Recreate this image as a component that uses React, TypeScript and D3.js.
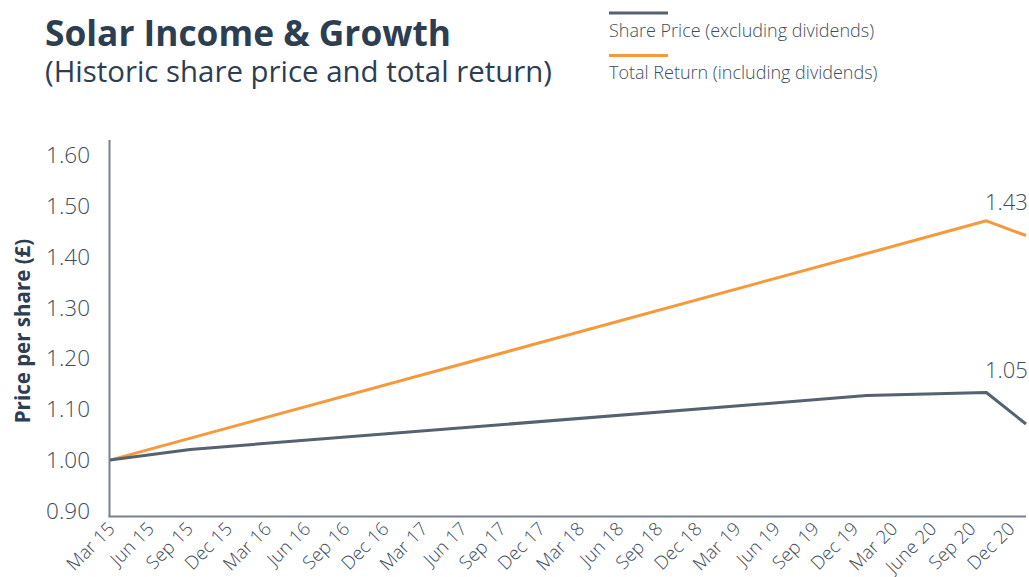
import React from "react";
import * as d3 from "d3";

const tickLabels = [
  "Mar 15", "Jun 15", "Sep 15", "Dec 15",
  "Mar 16", "Jun 16", "Sep 16", "Dec 16",
  "Mar 17", "Jun 17", "Sep 17", "Dec 17",
  "Mar 18", "Jun 18", "Sep 18", "Dec 18",
  "Mar 19", "Jun 19", "Sep 19", "Dec 19",
  "Mar 20", "June 20", "Sep 20", "Dec 20",
];

// vertices
const shareDates = ["Mar 15", "Sep 15", "Dec 19", "Sep 20", "Dec 20"];
const shareValues = [1.0, 1.021, 1.127, 1.133, 1.071];

const totalDates = ["Mar 15", "Sep 20", "Dec 20"];
const totalValues = [1.0, 1.471, 1.442];

const yTicks = [0.9, 1.0, 1.1, 1.2, 1.3, 1.4, 1.5, 1.6];

const endLabels = ["1.43", "1.05"];
const legendLabels = ["Share Price (excluding dividends)", "Total Return (including dividends)"];

const FONT = "'Open Sans', 'Noto Sans', sans-serif";
const ORANGE = "#f7993b";
const GRAY = "#56626f";
const AXIS = "#76828e";
const TEXT = "#3e4d5c";
const TITLE = "#2c3e50";

const monthNames: Record<string, number> = { Mar: 2, Jun: 5, June: 5, Sep: 8, Dec: 11 };
function parseLabel(l: string): Date {
  const [m, y] = l.split(" ");
  return new Date(2000 + +y, monthNames[m], 1);
}

export default function App() {
  const W = 1029, H = 577;
  const x = d3.scaleTime()
    .domain([parseLabel("Mar 15"), parseLabel("Dec 20")])
    .range([110, 1026]);
  const xl = d3.scalePoint<string>().domain(tickLabels).range([116, 1016]);
  const y = d3.scaleLinear().domain([0.89, 1.63]).range([516, 140]);

  const line = d3.line<[string, number]>()
    .x((d) => x(parseLabel(d[0])))
    .y((d) => y(d[1]));

  const share: [string, number][] = shareDates.map((d, i) => [d, shareValues[i]]);
  const total: [string, number][] = totalDates.map((d, i) => [d, totalValues[i]]);

  const fmt = d3.format(".2f");

  return (
    <svg width={W} height={H} style={{ position: "absolute", left: 0, top: 0 }} fontFamily={FONT}>
      <rect width={W} height={H} fill="#fff" />
      {/* title */}
      <text x={45} y={46} fontSize={35.3} fontWeight={700} fill={TITLE}>Solar Income &amp; Growth</text>
      <text x={45} y={82} fontSize={29.4} fontWeight={400} fill={TITLE}>(Historic share price and total return)</text>

      {/* legend */}
      <line x1={609} x2={668} y1={13} y2={13} stroke={GRAY} strokeWidth={3} />
      <text x={609} y={37} fontSize={18} fontWeight={300} fill={TEXT}>{legendLabels[0]}</text>
      <line x1={609} x2={668} y1={55.5} y2={55.5} stroke={ORANGE} strokeWidth={3} />
      <text x={609} y={79} fontSize={18} fontWeight={300} fill={TEXT}>{legendLabels[1]}</text>

      {/* y axis title */}
      <text transform="translate(30,331) rotate(-90)" textAnchor="middle" fontSize={20.5} fontWeight={700} fill={TITLE}>
        Price per share (£)
      </text>

      {/* y tick labels */}
      {yTicks.map((t) => (
        <text key={t} x={90} y={y(t)} dy="0.35em" textAnchor="end" fontSize={22.5} fontWeight={300} fill={TEXT}>
          {fmt(t)}
        </text>
      ))}

      {/* axes */}
      <line x1={109.5} x2={109.5} y1={140} y2={517} stroke={AXIS} strokeWidth={2} />
      <line x1={108.5} x2={1026} y1={516.5} y2={516.5} stroke={AXIS} strokeWidth={2} />

      {/* x tick labels */}
      {tickLabels.map((l) => (
        <text key={l} transform={`translate(${xl(l)},530) rotate(-45)`} textAnchor="end" fontSize={18.5} fontWeight={300} fill={TEXT}>
          {l}
        </text>
      ))}

      {/* lines */}
      <path d={line(total) || ""} fill="none" stroke={ORANGE} strokeWidth={3} strokeLinejoin="round" />
      <path d={line(share) || ""} fill="none" stroke={GRAY} strokeWidth={3} strokeLinejoin="round" />

      {/* end labels */}
      <text x={985} y={210} fontSize={22} fontWeight={300} fill={TEXT}>{endLabels[0]}</text>
      <text x={985} y={378} fontSize={22} fontWeight={300} fill={TEXT}>{endLabels[1]}</text>
    </svg>
  );
}
